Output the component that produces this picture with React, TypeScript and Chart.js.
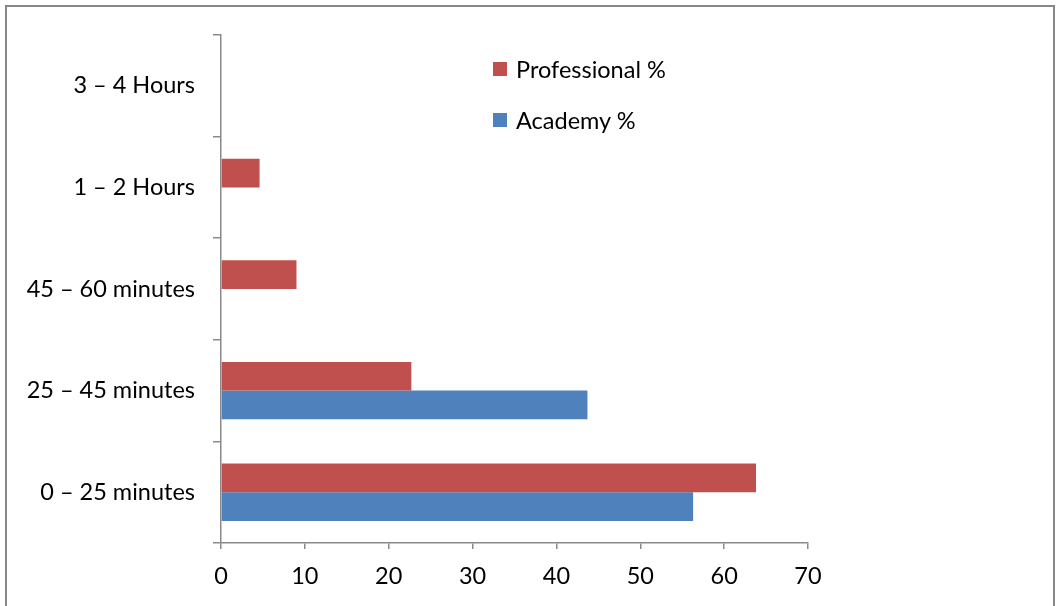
import React, { useEffect, useRef } from "react";
import { Chart, registerables } from "chart.js";

Chart.register(...registerables);

const categories = ["3 – 4 Hours", "1 – 2 Hours", "45 – 60 minutes", "25 – 45 minutes", "0 – 25 minutes"];
const professional = [0, 4.6, 9.0, 22.7, 63.8];
const academy = [0, 0, 0, 43.7, 56.3];
const seriesNames = ["Professional %", "Academy %"];
const seriesColors = ["#C0504D", "#4F81BD"];
const xTicks = [0, 10, 20, 30, 40, 50, 60, 70];

const FONT = "Lato, 'Open Sans', sans-serif";
const AXIS = "#8a8a8a";
const FS = 23.5;

export default function App() {
  const ref = useRef<HTMLCanvasElement | null>(null);

  useEffect(() => {
    if (!ref.current) return;
    const chart = new Chart(ref.current, {
      type: "bar",
      data: {
        labels: categories,
        datasets: [
          { label: seriesNames[0], data: professional, backgroundColor: seriesColors[0], borderWidth: 0 },
          { label: seriesNames[1], data: academy, backgroundColor: seriesColors[1], borderWidth: 0 },
        ],
      },
      options: {
        indexAxis: "y",
        animation: false,
        responsive: false,
        maintainAspectRatio: false,
        datasets: { bar: { barPercentage: 1, categoryPercentage: 0.565 } },
        layout: { padding: { left: 0, right: 251, top: 35, bottom: 0 } },
        plugins: { legend: { display: false }, tooltip: { enabled: false } },
        scales: {
          x: {
            type: "linear",
            min: 0,
            max: 70,
            afterBuildTicks: (s: any) => {
              s.ticks = xTicks.map((v) => ({ value: v }));
            },
            afterFit: (s: any) => {
              s.height = 63;
            },
            grid: { display: true, drawOnChartArea: false, drawTicks: true, tickLength: 6, color: AXIS, lineWidth: 1.5 },
            border: { display: true, color: AXIS, width: 1.5 },
            ticks: { color: "#000", font: { family: FONT, size: FS }, padding: 13 },
          },
          y: {
            type: "category",
            afterFit: (s: any) => {
              s.width = 221;
            },
            grid: { display: true, offset: true, drawOnChartArea: false, drawTicks: true, tickLength: 8, color: AXIS, lineWidth: 1.5 },
            border: { display: true, color: AXIS, width: 1.5 },
            ticks: { color: "#000", font: { family: FONT, size: FS }, padding: 18 },
          },
        },
      },
    });
    return () => chart.destroy();
  }, []);

  return (
    <div style={{ position: "fixed", left: 0, top: 0, width: 1059, height: 606, background: "#fff", overflow: "hidden" }}>
      <div
        style={{
          position: "absolute",
          left: 5,
          top: 5,
          width: 1050,
          height: 620,
          border: "2px solid #878787",
          boxSizing: "border-box",
        }}
      />
      <canvas ref={ref} width={1059} height={606} style={{ position: "absolute", left: 0, top: 0 }} />
      {seriesNames.map((n, i) => (
        <div
          key={n}
          style={{
            position: "absolute",
            left: 493,
            top: 54 + i * 51,
            height: 30,
            display: "flex",
            alignItems: "center",
            fontFamily: FONT,
            fontSize: FS,
            color: "#000",
            whiteSpace: "nowrap",
          }}
        >
          <span style={{ display: "inline-block", width: 14, height: 14, background: seriesColors[i], marginRight: 9 }} />
          {n}
        </div>
      ))}
    </div>
  );
}
